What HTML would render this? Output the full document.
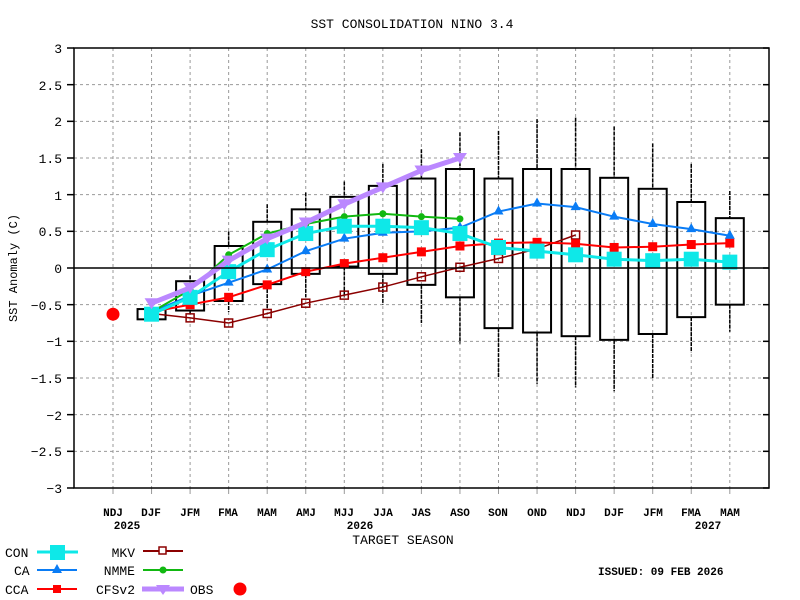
<!DOCTYPE html>
<html><head><meta charset="utf-8"><style>
body{margin:0;background:#fff;width:800px;height:600px;overflow:hidden}
svg{display:block}
text{font-family:"Liberation Mono","DejaVu Sans Mono",monospace;fill:#000}
.b{font-weight:bold;font-size:11px}
</style></head><body>
<svg id="s" width="800" height="600" xmlns="http://www.w3.org/2000/svg">
<g id="grid"></g>
<g id="boxes"></g>
<g id="series"></g>
<rect x="74" y="48" width="695" height="440" fill="none" stroke="#000" stroke-width="1.5"/>
<line x1="74" y1="268" x2="769" y2="268" stroke="#000" stroke-width="1.5"/>
<text x="412" y="28" font-size="13" text-anchor="middle">SST CONSOLIDATION NINO 3.4</text>
<text transform="translate(17,268) rotate(-90)" font-size="12" text-anchor="middle">SST Anomaly (C)</text>
<g font-size="13" text-anchor="end">
<text x="62" y="53">3</text><text x="62" y="90">2.5</text><text x="62" y="126">2</text><text x="62" y="163">1.5</text><text x="62" y="200">1</text><text x="62" y="236">0.5</text><text x="62" y="273">0</text><text x="62" y="310">−0.5</text><text x="62" y="346">−1</text><text x="62" y="383">−1.5</text><text x="62" y="420">−2</text><text x="62" y="456">−2.5</text><text x="62" y="493">−3</text>
</g>
<g class="b" text-anchor="middle">
<text x="113" y="516">NDJ</text><text x="151" y="516">DJF</text><text x="190" y="516">JFM</text><text x="228" y="516">FMA</text><text x="267" y="516">MAM</text><text x="306" y="516">AMJ</text><text x="344" y="516">MJJ</text><text x="383" y="516">JJA</text><text x="421" y="516">JAS</text><text x="460" y="516">ASO</text><text x="498" y="516">SON</text><text x="537" y="516">OND</text><text x="576" y="516">NDJ</text><text x="614" y="516">DJF</text><text x="653" y="516">JFM</text><text x="691" y="516">FMA</text><text x="730" y="516">MAM</text>
<text x="127" y="529">2025</text><text x="360" y="529">2026</text><text x="708" y="529">2027</text>
</g>
<text x="403" y="544" font-size="13" text-anchor="middle">TARGET SEASON</text>
<g font-size="13">
<text x="5" y="557">CON</text><text x="14" y="575">CA</text><text x="5" y="594">CCA</text>
<text x="135" y="557" text-anchor="end">MKV</text><text x="135" y="575" text-anchor="end">NMME</text><text x="135" y="594" text-anchor="end">CFSv2</text>
<text x="190" y="594">OBS</text>
</g>
<text x="598" y="575" class="b">ISSUED: 09 FEB 2026</text>
<g id="legend"></g>
</svg>
<script>
const NS="http://www.w3.org/2000/svg";
function el(p,t,a){const e=document.createElementNS(NS,t);for(const k in a)e.setAttribute(k,a[k]);document.getElementById(p).appendChild(e);return e;}
const X=i=>113+38.55*i, Y=v=>268-73.33*v;
for(let i=0;i<17;i++){el("grid","line",{x1:X(i),y1:48,x2:X(i),y2:488,stroke:"#999","stroke-dasharray":"3,3"});
 el("grid","line",{x1:X(i),y1:488,x2:X(i),y2:494,stroke:"#999"});}
for(let v=-3;v<=3;v+=0.5){if(v!=0&&v!=3&&v!=-3)el("grid","line",{x1:74,y1:Y(v),x2:769,y2:Y(v),stroke:"#999","stroke-dasharray":"3,3"});
 el("grid","line",{x1:67,y1:Y(v),x2:74,y2:Y(v),stroke:"#000","stroke-width":1.5});
 el("grid","line",{x1:763,y1:Y(v),x2:769,y2:Y(v),stroke:"#000","stroke-width":1.5});}
const B=[[1,-0.56,-0.7,-0.56,-0.7],[2,-0.18,-0.58,-0.1,-0.62],[3,0.3,-0.45,0.5,-0.6],[4,0.63,-0.22,0.87,-0.55],[5,0.8,-0.08,1.03,-0.4],[6,0.97,0.02,1.18,-0.4],[7,1.12,-0.08,1.42,-0.5],[8,1.22,-0.23,1.62,-0.75],[9,1.35,-0.4,1.85,-1.03],[10,1.22,-0.82,1.87,-1.5],[11,1.35,-0.88,2.03,-1.58],[12,1.35,-0.93,2.05,-1.63],[13,1.23,-0.98,1.93,-1.68],[14,1.08,-0.9,1.7,-1.5],[15,0.9,-0.67,1.42,-1.15],[16,0.68,-0.5,1.05,-0.87]];
B.forEach(([i,t,b,wt,wb])=>{const x=X(i);
 el("boxes","line",{x1:x,y1:Y(wt),x2:x,y2:Y(t),stroke:"#000","stroke-width":1.5,"stroke-dasharray":"4,1"});
 el("boxes","line",{x1:x,y1:Y(b),x2:x,y2:Y(wb),stroke:"#000","stroke-width":1.5,"stroke-dasharray":"4,1"});
 el("boxes","rect",{x:x-14,y:Y(t),width:28,height:Y(b)-Y(t),fill:"none",stroke:"#000","stroke-width":2});});
function series(vals,col,w,mk,start){const pts=vals.map((v,k)=>[X(start+k),Y(v)]);
 el("series","polyline",{points:pts.map(p=>p.join(",")).join(" "),fill:"none",stroke:col,"stroke-width":w});
 pts.forEach(p=>mk(p[0],p[1]));}
const sq=(c,s)=>(x,y)=>el("series","rect",{x:x-s/2,y:y-s/2,width:s,height:s,fill:c});
const tri=c=>(x,y)=>el("series","polygon",{points:`${x},${y-6} ${x-5},${y+3} ${x+5},${y+3}`,fill:c});
const osq=c=>(x,y)=>el("series","rect",{x:x-4,y:y-4,width:8,height:8,fill:"none",stroke:c,"stroke-width":1.5});
const dot=c=>(x,y)=>el("series","circle",{cx:x,cy:y,r:3.5,fill:c});
const itri=c=>(x,y)=>el("series","polygon",{points:`${x-7},${y-5} ${x+7},${y-5} ${x},${y+6}`,fill:c});
series([-0.62,-0.68,-0.75,-0.62,-0.48,-0.37,-0.26,-0.12,0.01,0.13,0.26,0.45],"#8b0000",1.5,osq("#8b0000"),1);
series([-0.6,-0.5,-0.4,-0.23,-0.05,0.06,0.14,0.22,0.3,0.34,0.35,0.33,0.28,0.29,0.32,0.34],"#ff0000",2,sq("#ff0000",9),1);
series([-0.6,-0.38,-0.2,-0.02,0.23,0.4,0.48,0.5,0.55,0.77,0.88,0.83,0.7,0.6,0.53,0.44],"#0a7cf5",2,tri("#0a7cf5"),1);
series([-0.6,-0.3,0.18,0.47,0.6,0.7,0.74,0.7,0.67],"#11b811",2,dot("#11b811"),1);
series([-0.63,-0.4,-0.05,0.25,0.47,0.57,0.57,0.55,0.47,0.28,0.23,0.18,0.12,0.1,0.12,0.08],"#0ee8e8",3,sq("#0ee8e8",15),1);
series([-0.48,-0.27,0.1,0.4,0.62,0.87,1.1,1.33,1.5],"#bb88ff",5,itri("#bb88ff"),1);
el("series","circle",{cx:X(0),cy:Y(-0.63),r:6.5,fill:"#ff0000"});
// legend
el("legend","line",{x1:37,y1:552,x2:78,y2:552,stroke:"#0ee8e8","stroke-width":3});el("legend","rect",{x:50,y:545,width:15,height:15,fill:"#0ee8e8"});
el("legend","line",{x1:37,y1:570,x2:77,y2:570,stroke:"#0a7cf5","stroke-width":2});el("legend","polygon",{points:"57,564 52,573 62,573",fill:"#0a7cf5"});
el("legend","line",{x1:37,y1:589,x2:77,y2:589,stroke:"#ff0000","stroke-width":2});el("legend","rect",{x:53,y:585,width:8,height:8,fill:"#ff0000"});
el("legend","line",{x1:143,y1:551,x2:183,y2:551,stroke:"#8b0000","stroke-width":2});el("legend","rect",{x:159,y:547,width:7,height:7,fill:"#fff",stroke:"#8b0000","stroke-width":1.5});
el("legend","line",{x1:143,y1:570,x2:183,y2:570,stroke:"#11b811","stroke-width":2});el("legend","circle",{cx:163,cy:570,r:3.5,fill:"#11b811"});
el("legend","line",{x1:142,y1:589,x2:184,y2:589,stroke:"#bb88ff","stroke-width":5});el("legend","polygon",{points:"156,585 170,585 163,595",fill:"#bb88ff"});
el("legend","circle",{cx:240,cy:589,r:6.5,fill:"#ff0000"});
</script>
</body></html>
